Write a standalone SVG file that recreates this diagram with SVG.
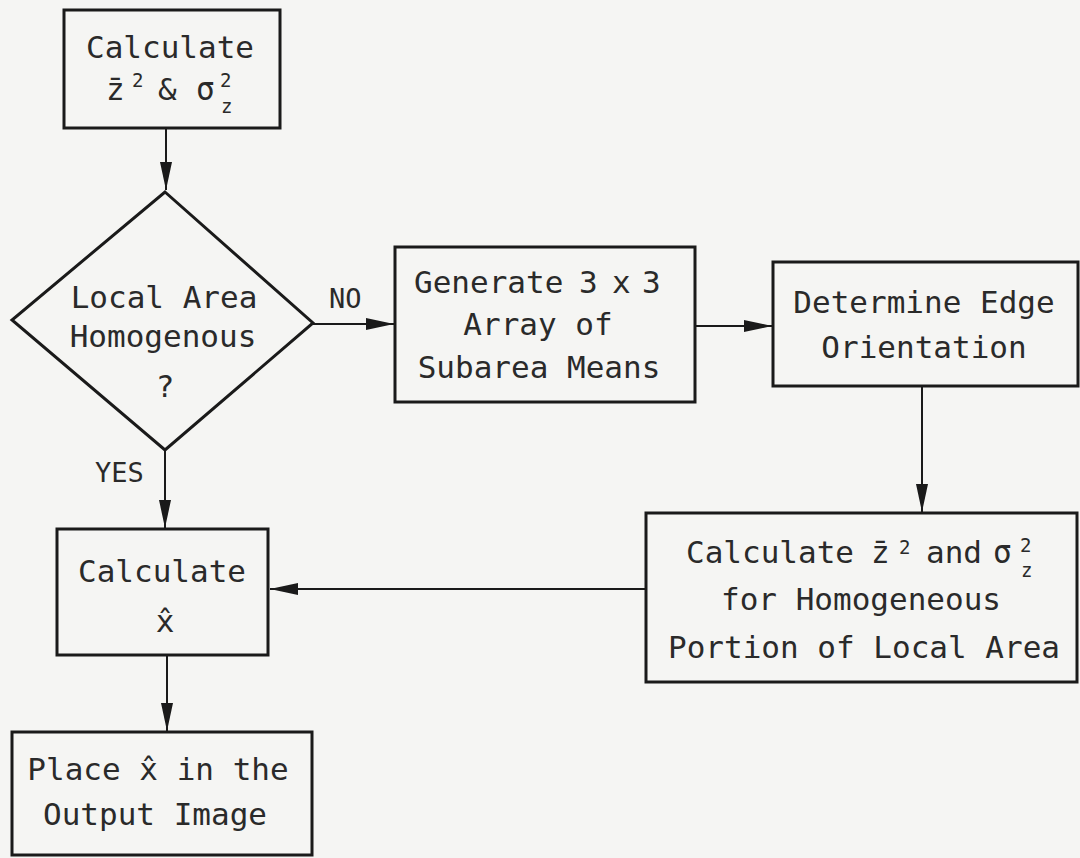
<svg xmlns="http://www.w3.org/2000/svg" width="1080" height="858" viewBox="0 0 1080 858">
<defs>
<marker id="ah" viewBox="0 0 28 12" refX="28" refY="6" markerWidth="28" markerHeight="12" markerUnits="userSpaceOnUse" orient="auto">
<path d="M0,0 L28,6 L0,12 Z" fill="#1a1a1a"/>
</marker>
<style>
.box{fill:none;stroke:#1a1a1a;stroke-width:3}
.t{font-family:"DejaVu Sans Mono","Liberation Mono",monospace;font-size:31px;fill:#2a2a2a}
.c{text-anchor:middle}
.s{font-size:19px}
.ln{fill:none;stroke:#1a1a1a;stroke-width:2;marker-end:url(#ah)}
</style>
</defs>
<rect width="1080" height="858" fill="#f5f5f3"/>
<g id="connectors">
<line class="ln" x1="166" y1="129" x2="166" y2="190"/>
<line class="ln" x1="313" y1="324" x2="394" y2="324"/>
<line class="ln" x1="695" y1="326" x2="772" y2="326"/>
<line class="ln" x1="922" y1="387" x2="922" y2="512"/>
<line class="ln" x1="646" y1="589" x2="270" y2="589"/>
<line class="ln" x1="165" y1="450" x2="165" y2="528"/>
<line class="ln" x1="167" y1="656" x2="167" y2="731"/>
<text class="t" x="329" y="308" style="font-size:27px">NO</text>
<text class="t" x="95" y="482" style="font-size:27px">YES</text>
</g>
<g id="n1">
<rect class="box" x="64" y="10" width="216" height="118"/>
<text class="t c" x="170" y="58">Calculate</text>
<text class="t" x="106" y="100">z̄</text>
<text class="t s" x="132" y="87">2</text>
<text class="t" x="158" y="100">&amp;</text>
<text class="t" x="196" y="100">σ</text>
<text class="t s" x="220" y="87">2</text>
<text class="t s" x="221" y="113">z</text>
</g>
<g id="n2">
<polygon class="box" points="165,192 313,323 165,450 12,320"/>
<text class="t c" x="164" y="308">Local Area</text>
<text class="t c" x="163" y="347">Homogenous</text>
<text class="t c" x="165" y="397">?</text>
</g>
<g id="n3">
<rect class="box" x="395" y="247" width="300" height="155"/>
<text class="t" x="414" y="293">Generate</text>
<text class="t" x="579" y="293">3</text>
<text class="t" x="612" y="293">x</text>
<text class="t" x="642" y="293">3</text>
<text class="t c" x="538" y="335">Array of</text>
<text class="t c" x="539" y="378">Subarea Means</text>
</g>
<g id="n4">
<rect class="box" x="773" y="262" width="305" height="124"/>
<text class="t c" x="924" y="313">Determine Edge</text>
<text class="t c" x="924" y="358">Orientation</text>
</g>
<g id="n5">
<rect class="box" x="646" y="513" width="431" height="169"/>
<text class="t" x="686" y="563">Calculate</text>
<text class="t" x="871" y="563">z̄</text>
<text class="t s" x="899" y="554">2</text>
<text class="t" x="926" y="563">and</text>
<text class="t" x="993" y="563">σ</text>
<text class="t s" x="1020" y="552">2</text>
<text class="t s" x="1021" y="577">z</text>
<text class="t c" x="861" y="610">for Homogeneous</text>
<text class="t c" x="864" y="658">Portion of Local Area</text>
</g>
<g id="n6">
<rect class="box" x="57" y="529" width="211" height="126"/>
<text class="t c" x="162" y="582">Calculate</text>
<text class="t c" x="165" y="632">x̂</text>
</g>
<g id="n7">
<rect class="box" x="12" y="732" width="300" height="123"/>
<text class="t c" x="158" y="780">Place x̂ in the</text>
<text class="t c" x="155" y="825">Output Image</text>
</g>
</svg>
